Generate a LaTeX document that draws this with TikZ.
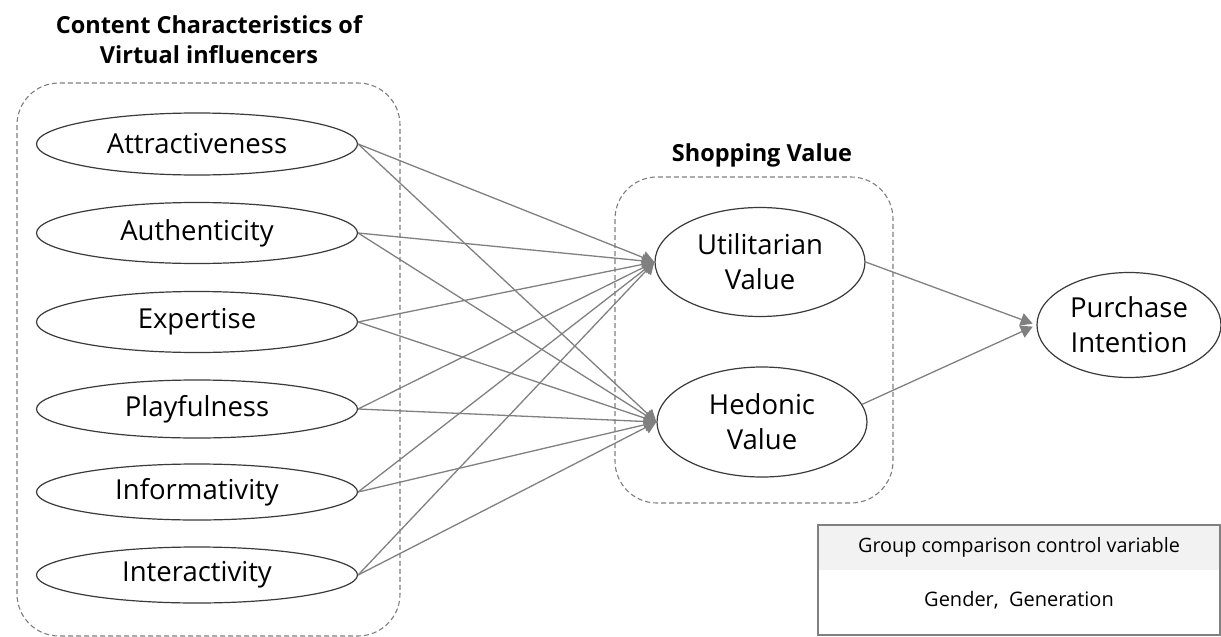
\documentclass[tikz,border=0pt]{standalone}
\usepackage{fontspec}
\setmainfont{Open Sans}
\usetikzlibrary{arrows.meta,shapes.geometric}
\definecolor{linegray}{HTML}{808080}
\definecolor{dashgray}{HTML}{7F7F7F}
\definecolor{ellgray}{HTML}{3A3A3A}
\definecolor{headgray}{HTML}{F2F2F2}
\tikzset{
  ell/.style={ellipse, draw=ellgray, line width=1.2pt, inner sep=0pt, fill=white,
    font=\fontsize{27.5}{35}\selectfont, align=center},
  leftell/.style={ell, minimum width=321pt},
  grp/.style={draw=dashgray, dashed, line width=1.1pt, rounded corners=42pt, dash pattern=on 5pt off 3pt},
  ttl/.style={font=\fontsize{23.5}{30}\selectfont\bfseries, align=center},
  conn/.style={draw=linegray, line width=1.3pt, -{Triangle[length=12pt,width=13pt]}},
}
\begin{document}
\begin{tikzpicture}[x=1pt,y=-1pt]
\useasboundingbox (0,0) rectangle (1221,637);
% groups
\draw[grp] (17,83) rectangle (400,636);
\draw[grp] (615,177) rectangle (893,503);
\node[ttl] (t1) at (209,40) {Content Characteristics of\\Virtual influencers};
\node[ttl] (t2) at (762,155) {Shopping Value};
% left ellipses
\node[leftell, minimum height=62pt] (a1) at (197,144) {Attractiveness};
\node[leftell, minimum height=61pt] (a2) at (197,233) {Authenticity};
\node[leftell, minimum height=61pt] (a3) at (197,322) {Expertise};
\node[leftell, minimum height=58pt] (a4) at (197,409) {Playfulness};
\node[leftell, minimum height=56pt] (a5) at (197,492) {Informativity};
\node[leftell, minimum height=56pt] (a6) at (197,575) {Interactivity};
% middle
\node[ell, minimum width=210pt, minimum height=109pt] (u) at (760,262) {Utilitarian\\Value};
\node[ell, minimum width=210pt, minimum height=110pt] (h) at (762,422) {Hedonic\\Value};
\node[ell, minimum width=184pt, minimum height=105pt] (p) at (1129,325) {Purchase\\Intention};
% connectors
\foreach \n in {a1,a2,a3,a4,a5,a6}{
  \draw[conn] (\n.east) -- (u.west);
  \draw[conn] (\n.east) -- (h.west);
}
\draw[conn, shorten >=4pt] (u.east) -- (p.west);
\draw[conn, shorten >=4pt] (h.10) -- (p.west);
% control variable box
\node[draw=none, fill=headgray, minimum width=402pt, minimum height=45pt, inner sep=0pt,
  font=\fontsize{19.8}{24}\selectfont] (cvh) at (1019,547) {Group comparison control variable};
\node[font=\fontsize{20}{24}\selectfont, inner sep=0pt] (cvt) at (1019,600) {Gender,\ \ Generation};
\draw[draw=linegray, line width=1.6pt] (818,525) rectangle (1220,635);
\end{tikzpicture}
\end{document}
